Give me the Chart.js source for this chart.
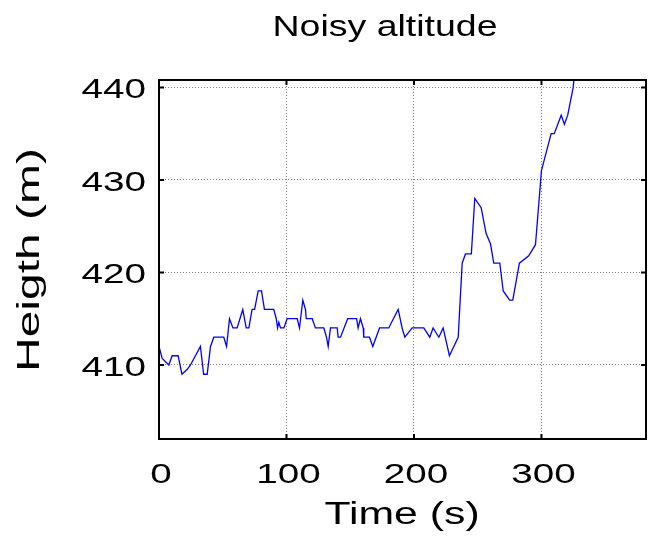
<!DOCTYPE html>
<html>
<head>
<meta charset="utf-8">
<script src="https://cdn.jsdelivr.net/npm/chart.js@4.4.0/dist/chart.umd.min.js"></script>
<style>
    html, body { margin: 0; padding: 0; background: #fff; }
</style>
</head>
<body>
<canvas id="chart" width="651" height="538"></canvas>
<script>
// time stamps (s) and altitude readings (m)
const timeS = [0, 2.5, 7.7, 10.3, 15, 18, 22, 24.7, 32.5, 35, 37.8, 40.4, 43, 50.8, 53, 55.3, 58, 61.3, 65.7, 68.4,
    70.5, 73, 75, 77.8, 80.4, 82.7, 90, 92, 93, 94, 95.3, 98, 100.5, 108.4, 110.2, 112.8, 114.9, 115.5, 120.2, 122.7,
    129.3, 131.4, 132.7, 134.5, 139.8, 140.5, 142.4, 148, 155, 156.2, 158, 160.2, 160.6, 165.1, 167.7, 173, 180.2, 187.6,
    190.7, 192.8, 198.6, 207.7, 212.4, 215, 219.5, 222.9, 227.8, 234.7, 237.8, 240.4, 245, 247.7, 252.7, 256.6, 260,
    262.6, 267.3, 270, 275, 277.5, 282.7, 290, 295.3, 300, 307.6, 310, 315.5, 318, 320.6, 324.9, 327];
const heightM = [412, 410.7, 410, 411, 411, 409, 409.5, 410, 412, 409, 409, 412, 413, 413, 412, 415, 414, 414, 416, 414,
    414, 416, 416, 418, 418, 416, 416, 415, 414, 414.6, 414, 414, 415, 415, 414, 417, 416, 415, 415, 414,
    414, 413, 412, 414, 414, 413, 413, 415, 415, 414, 415, 414, 413, 413, 412, 414, 414, 416,
    414, 413, 414, 414, 413, 414, 413, 414, 411, 413, 421, 422, 422, 428, 427, 424.2, 423.1,
    421, 421, 418, 417, 417, 421, 421.8, 423, 431, 435, 435, 437, 436, 437, 440, 443];
const xTicks = [0, 100, 200, 300];
const yTicks = [410, 420, 430, 440];

/**
 * @brief draws text stretched along its own direction (the figure text is wide).
 */
function drawText(ctx, text, x, y, size, stretch, align, angle) {
    ctx.save();
    ctx.translate(x, y);
    if (angle) ctx.rotate(angle);
    ctx.scale(stretch, 1);
    ctx.font = size + 'px "Liberation Sans", Arial, sans-serif';
    ctx.textAlign = align;
    ctx.textBaseline = 'middle';
    ctx.fillStyle = '#000';
    ctx.fillText(text, 0, 0);
    ctx.restore();
}

// matlab look: box, inward ticks on all sides, labels
const matlabAxes = {
    id: 'matlabAxes',
    afterDraw(chart) {
        const ctx = chart.ctx;
        const a = chart.chartArea;
        const xs = chart.scales.x;
        const ys = chart.scales.y;
        ctx.save();
        ctx.strokeStyle = '#000';
        ctx.lineWidth = 2;
        ctx.beginPath();
        xTicks.forEach(v => {
            let px = xs.getPixelForValue(v);
            ctx.moveTo(px, a.bottom); ctx.lineTo(px, a.bottom - 5);
            ctx.moveTo(px, a.top); ctx.lineTo(px, a.top + 5);
        });
        yTicks.forEach(v => {
            let py = ys.getPixelForValue(v);
            ctx.moveTo(a.left, py); ctx.lineTo(a.left + 5, py);
            ctx.moveTo(a.right, py); ctx.lineTo(a.right - 5, py);
        });
        ctx.stroke();
        ctx.strokeRect(a.left, a.top, a.right - a.left, a.bottom - a.top);
        ctx.restore();

        xTicks.forEach(v => drawText(ctx, String(v), xs.getPixelForValue(v) + 2, 475, 28, 1.38, 'center'));
        yTicks.forEach(v => drawText(ctx, String(v), 146, ys.getPixelForValue(v) + 3, 28, 1.38, 'right'));
        drawText(ctx, 'Noisy altitude', 385, 28, 30, 1.25, 'center');
        drawText(ctx, 'Time (s)', 402, 515, 31, 1.38, 'center');
        drawText(ctx, 'Heigth (m)', 30, 260, 32, 1.5, 'center', -Math.PI / 2);
    }
};

let points = [];
for (let i = 0; i < timeS.length; i++) {
    points.push({ x: timeS[i], y: heightM[i] });
}

new Chart(document.getElementById('chart'), {
    type: 'line',
    data: {
        datasets: [{
            data: points,
            borderColor: '#0000ff',
            borderWidth: 1.3,
            pointRadius: 0,
            tension: 0,
            fill: false
        }]
    },
    options: {
        responsive: false,
        animation: false,
        devicePixelRatio: 1,
        layout: { padding: { top: 80, right: 5, left: 0, bottom: 0 } },
        plugins: { legend: { display: false }, tooltip: { enabled: false } },
        scales: {
            x: {
                type: 'linear',
                min: 0,
                max: 382,
                afterFit: s => { s.height = 99; },
                afterBuildTicks: s => { s.ticks = xTicks.map(v => ({ value: v })); },
                ticks: { display: false },
                grid: { color: '#808080', lineWidth: 1, drawTicks: false },
                border: { display: false, dash: [1, 2] }
            },
            y: {
                type: 'linear',
                min: 402,
                max: 440.8,
                afterFit: s => { s.width = 159; },
                afterBuildTicks: s => { s.ticks = yTicks.map(v => ({ value: v })); },
                ticks: { display: false },
                grid: { color: '#808080', lineWidth: 1, drawTicks: false },
                border: { display: false, dash: [1, 2] }
            }
        }
    },
    plugins: [matlabAxes]
});
</script>
</body>
</html>
